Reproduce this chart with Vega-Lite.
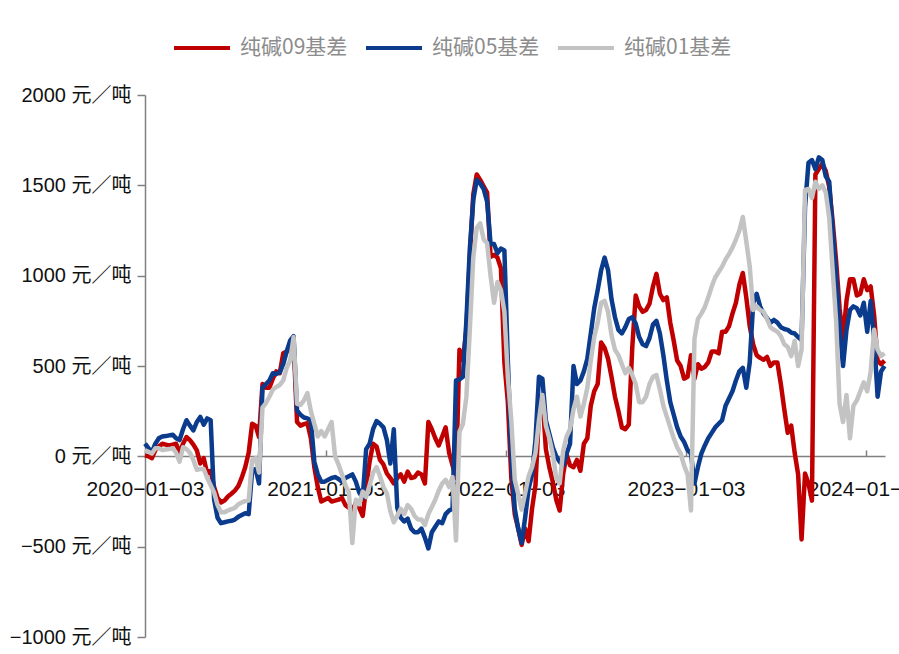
{
"$schema": "https://vega.github.io/schema/vega-lite/v6.json",
"width": 740, "height": 542,
"autosize": {"type": "none"},
"padding": {"left": 145, "top": 95, "right": 14, "bottom": 17},
"background": "white",
"config": {"view": {"stroke": null}, "font": "Liberation Sans, Noto Sans CJK SC"},
"data": {"values": [
{"d":"2020-01-03","纯碱09基差":5,"纯碱05基差":70,"纯碱01基差":33},
{"d":"2020-01-10","纯碱09基差":0,"纯碱05基差":45,"纯碱01基差":25},
{"d":"2020-01-17","纯碱09基差":-10,"纯碱05基差":24,"纯碱01基差":15},
{"d":"2020-01-24","纯碱09基差":35,"纯碱05基差":70,"纯碱01基差":45},
{"d":"2020-01-31","纯碱09基差":55,"纯碱05基差":100,"纯碱01基差":45},
{"d":"2020-02-07","纯碱09基差":70,"纯碱05基差":110,"纯碱01基差":35},
{"d":"2020-02-14","纯碱09基差":65,"纯碱05基差":112,"纯碱01基差":38},
{"d":"2020-02-21","纯碱09基差":60,"纯碱05基差":116,"纯碱01基差":40},
{"d":"2020-02-28","纯碱09基差":65,"纯碱05基差":120,"纯碱01基差":45},
{"d":"2020-03-06","纯碱09基差":70,"纯碱05基差":100,"纯碱01基差":20},
{"d":"2020-03-13","纯碱09基差":20,"纯碱05基差":90,"纯碱01基差":-30},
{"d":"2020-03-20","纯碱09基差":70,"纯碱05基差":150,"纯碱01基差":50},
{"d":"2020-03-27","纯碱09基差":107,"纯碱05基差":200,"纯碱01基差":40},
{"d":"2020-04-03","纯碱09基差":90,"纯碱05基差":170,"纯碱01基差":20},
{"d":"2020-04-10","纯碱09基差":65,"纯碱05基差":144,"纯碱01基差":-20},
{"d":"2020-04-17","纯碱09基差":33,"纯碱05基差":190,"纯碱01基差":-75},
{"d":"2020-04-24","纯碱09基差":-40,"纯碱05基差":218,"纯碱01基差":-70},
{"d":"2020-05-01","纯碱09基差":-10,"纯碱05基差":175,"纯碱01基差":-70},
{"d":"2020-05-08","纯碱09基差":-95,"纯碱05基差":210,"纯碱01基差":-120},
{"d":"2020-05-15","纯碱09基差":-80,"纯碱05基差":200,"纯碱01基差":-160},
{"d":"2020-05-22","纯碱09基差":-170,"纯碱05基差":-240,"纯碱01基差":-200},
{"d":"2020-05-29","纯碱09基差":-230,"纯碱05基差":-340,"纯碱01基差":-270},
{"d":"2020-06-05","纯碱09基差":-255,"纯碱05基差":-370,"纯碱01基差":-310},
{"d":"2020-06-12","纯碱09基差":-245,"纯碱05基差":-365,"纯碱01基差":-310},
{"d":"2020-06-19","纯碱09基差":-222,"纯碱05基差":-360,"纯碱01基差":-300},
{"d":"2020-06-26","纯碱09基差":-207,"纯碱05基差":-357,"纯碱01基差":-292},
{"d":"2020-07-03","纯碱09基差":-190,"纯碱05基差":-350,"纯碱01基差":-285},
{"d":"2020-07-10","纯碱09基差":-165,"纯碱05基差":-335,"纯碱01基差":-265},
{"d":"2020-07-17","纯碱09基差":-118,"纯碱05基差":-325,"纯碱01基差":-255},
{"d":"2020-07-24","纯碱09基差":-60,"纯碱05基差":-315,"纯碱01基差":-248},
{"d":"2020-07-31","纯碱09基差":20,"纯碱05基差":-320,"纯碱01基差":-245},
{"d":"2020-08-07","纯碱09基差":180,"纯碱05基差":-80,"纯碱01基差":-20},
{"d":"2020-08-14","纯碱09基差":170,"纯碱05基差":-70,"纯碱01基差":-10},
{"d":"2020-08-21","纯碱09基差":107,"纯碱05基差":-150,"纯碱01基差":-90},
{"d":"2020-08-28","纯碱09基差":400,"纯碱05基差":380,"纯碱01基差":270},
{"d":"2020-09-04","纯碱09基差":380,"纯碱05基差":400,"纯碱01基差":295},
{"d":"2020-09-11","纯碱09基差":380,"纯碱05基差":420,"纯碱01基差":330},
{"d":"2020-09-18","纯碱09基差":430,"纯碱05基差":460,"纯碱01基差":370},
{"d":"2020-09-25","纯碱09基差":470,"纯碱05基差":455,"纯碱01基差":384},
{"d":"2020-10-02","纯碱09基差":460,"纯碱05基差":465,"纯碱01基差":395},
{"d":"2020-10-09","纯碱09基差":570,"纯碱05基差":510,"纯碱01基差":420},
{"d":"2020-10-16","纯碱09基差":580,"纯碱05基差":580,"纯碱01基差":490},
{"d":"2020-10-23","纯碱09基差":600,"纯碱05基差":640,"纯碱01基差":530},
{"d":"2020-10-30","纯碱09基差":627,"纯碱05基差":665,"纯碱01基差":660},
{"d":"2020-11-06","纯碱09基差":190,"纯碱05基差":255,"纯碱01基差":290},
{"d":"2020-11-13","纯碱09基差":170,"纯碱05基差":230,"纯碱01基差":285},
{"d":"2020-11-20","纯碱09基差":178,"纯碱05基差":215,"纯碱01基差":310},
{"d":"2020-11-27","纯碱09基差":183,"纯碱05基差":210,"纯碱01基差":350},
{"d":"2020-12-04","纯碱09基差":100,"纯碱05基差":200,"纯碱01基差":250},
{"d":"2020-12-11","纯碱09基差":-60,"纯碱05基差":-30,"纯碱01基差":180},
{"d":"2020-12-18","纯碱09基差":-170,"纯碱05基差":-100,"纯碱01基差":110},
{"d":"2020-12-25","纯碱09基差":-250,"纯碱05基差":-140,"纯碱01基差":140},
{"d":"2021-01-01","纯碱09基差":-240,"纯碱05基差":-140,"纯碱01基差":110},
{"d":"2021-01-08","纯碱09基差":-230,"纯碱05基差":-130,"纯碱01基差":150},
{"d":"2021-01-15","纯碱09基差":-250,"纯碱05基差":-120,"纯碱01基差":190},
{"d":"2021-01-22","纯碱09基差":-245,"纯碱05基差":-115,"纯碱01基差":0},
{"d":"2021-01-29","纯碱09基差":-240,"纯碱05基差":-125,"纯碱01基差":-45},
{"d":"2021-02-05","纯碱09基差":-230,"纯碱05基差":-140,"纯碱01基差":-100},
{"d":"2021-02-12","纯碱09基差":-270,"纯碱05基差":-120,"纯碱01基差":-160},
{"d":"2021-02-19","纯碱09基差":-285,"纯碱05基差":-110,"纯碱01基差":-200},
{"d":"2021-02-26","纯碱09基差":-300,"纯碱05基差":-100,"纯碱01基差":-480},
{"d":"2021-03-05","纯碱09基差":-260,"纯碱05基差":-140,"纯碱01基差":-240},
{"d":"2021-03-12","纯碱09基差":-285,"纯碱05基差":-200,"纯碱01基差":-265},
{"d":"2021-03-19","纯碱09基差":-330,"纯碱05基差":-230,"纯碱01基差":-195},
{"d":"2021-03-26","纯碱09基差":-170,"纯碱05基差":40,"纯碱01基差":-225},
{"d":"2021-04-02","纯碱09基差":-30,"纯碱05基差":70,"纯碱01基差":-160},
{"d":"2021-04-09","纯碱09基差":70,"纯碱05基差":150,"纯碱01基差":-90},
{"d":"2021-04-16","纯碱09基差":55,"纯碱05基差":195,"纯碱01基差":-60},
{"d":"2021-04-23","纯碱09基差":-20,"纯碱05基差":180,"纯碱01基差":-110},
{"d":"2021-04-30","纯碱09基差":-45,"纯碱05基差":160,"纯碱01基差":-170},
{"d":"2021-05-07","纯碱09基差":-95,"纯碱05基差":90,"纯碱01基差":-205},
{"d":"2021-05-14","纯碱09基差":-120,"纯碱05基差":-40,"纯碱01基差":-305},
{"d":"2021-05-21","纯碱09基差":-150,"纯碱05基差":150,"纯碱01基差":-365},
{"d":"2021-05-28","纯碱09基差":-120,"纯碱05基差":-285,"纯碱01基差":-330},
{"d":"2021-06-04","纯碱09基差":-100,"纯碱05基差":-340,"纯碱01基差":-290},
{"d":"2021-06-11","纯碱09基差":-140,"纯碱05基差":-360,"纯碱01基差":-320},
{"d":"2021-06-18","纯碱09基差":-85,"纯碱05基差":-345,"纯碱01基差":-270},
{"d":"2021-06-25","纯碱09基差":-120,"纯碱05基差":-400,"纯碱01基差":-290},
{"d":"2021-07-02","纯碱09基差":-115,"纯碱05基差":-420,"纯碱01基差":-330},
{"d":"2021-07-09","纯碱09基差":-90,"纯碱05基差":-420,"纯碱01基差":-350},
{"d":"2021-07-16","纯碱09基差":-100,"纯碱05基差":-400,"纯碱01基差":-350},
{"d":"2021-07-23","纯碱09基差":-150,"纯碱05基差":-450,"纯碱01基差":-380},
{"d":"2021-07-30","纯碱09基差":190,"纯碱05基差":-510,"纯碱01基差":-320},
{"d":"2021-08-06","纯碱09基差":150,"纯碱05基差":-420,"纯碱01基差":-280},
{"d":"2021-08-13","纯碱09基差":100,"纯碱05基差":-390,"纯碱01基差":-240},
{"d":"2021-08-20","纯碱09基差":60,"纯碱05基差":-360,"纯碱01基差":-190},
{"d":"2021-08-27","纯碱09基差":110,"纯碱05基差":-370,"纯碱01基差":-150},
{"d":"2021-09-03","纯碱09基差":160,"纯碱05基差":-320,"纯碱01基差":-130},
{"d":"2021-09-10","纯碱09基差":20,"纯碱05基差":-300,"纯碱01基差":-170},
{"d":"2021-09-17","纯碱09基差":-50,"纯碱05基差":-290,"纯碱01基差":-115},
{"d":"2021-09-24","纯碱09基差":-120,"纯碱05基差":420,"纯碱01基差":-466},
{"d":"2021-10-01","纯碱09基差":590,"纯碱05基差":425,"纯碱01基差":135},
{"d":"2021-10-08","纯碱09基差":532,"纯碱05基差":440,"纯碱01基差":180},
{"d":"2021-10-15","纯碱09基差":700,"纯碱05基差":750,"纯碱01基差":330},
{"d":"2021-10-22","纯碱09基差":1100,"纯碱05基差":1150,"纯碱01基差":700},
{"d":"2021-10-29","纯碱09基差":1450,"纯碱05基差":1420,"纯碱01基差":1100},
{"d":"2021-11-05","纯碱09基差":1560,"纯碱05基差":1530,"纯碱01基差":1265},
{"d":"2021-11-12","纯碱09基差":1530,"纯碱05基差":1510,"纯碱01基差":1290},
{"d":"2021-11-19","纯碱09基差":1495,"纯碱05基差":1480,"纯碱01基差":1200},
{"d":"2021-11-26","纯碱09基差":1460,"纯碱05基差":1410,"纯碱01基差":1180},
{"d":"2021-12-03","纯碱09基差":1105,"纯碱05基差":1175,"纯碱01基差":1000},
{"d":"2021-12-10","纯碱09基差":1115,"纯碱05基差":1175,"纯碱01基差":850},
{"d":"2021-12-17","纯碱09基差":1100,"纯碱05基差":1125,"纯碱01基差":965},
{"d":"2021-12-24","纯碱09基差":1040,"纯碱05基差":1150,"纯碱01基差":920},
{"d":"2021-12-31","纯碱09基差":520,"纯碱05基差":1140,"纯碱01基差":800},
{"d":"2022-01-07","纯碱09基差":300,"纯碱05基差":530,"纯碱01基差":440},
{"d":"2022-01-14","纯碱09基差":-120,"纯碱05基差":0,"纯碱01基差":200},
{"d":"2022-01-21","纯碱09基差":-320,"纯碱05基差":-290,"纯碱01基差":-130},
{"d":"2022-01-28","纯碱09基差":-400,"纯碱05基差":-400,"纯碱01基差":-210},
{"d":"2022-02-04","纯碱09基差":-490,"纯碱05基差":-480,"纯碱01基差":-295},
{"d":"2022-02-11","纯碱09基差":-400,"纯碱05基差":-340,"纯碱01基差":-205},
{"d":"2022-02-18","纯碱09基差":-470,"纯碱05基差":-180,"纯碱01基差":-110},
{"d":"2022-02-25","纯碱09基差":-290,"纯碱05基差":-100,"纯碱01基差":-60},
{"d":"2022-03-04","纯碱09基差":-160,"纯碱05基差":90,"纯碱01基差":20},
{"d":"2022-03-11","纯碱09基差":240,"纯碱05基差":440,"纯碱01基差":200},
{"d":"2022-03-18","纯碱09基差":330,"纯碱05基差":430,"纯碱01基差":340},
{"d":"2022-03-25","纯碱09基差":40,"纯碱05基差":200,"纯碱01基差":170},
{"d":"2022-04-01","纯碱09基差":-60,"纯碱05基差":125,"纯碱01基差":100},
{"d":"2022-04-08","纯碱09基差":-140,"纯碱05基差":50,"纯碱01基差":15},
{"d":"2022-04-15","纯碱09基差":-240,"纯碱05基差":0,"纯碱01基差":-120},
{"d":"2022-04-22","纯碱09基差":-300,"纯碱05基差":-30,"纯碱01基差":-150},
{"d":"2022-04-29","纯碱09基差":-100,"纯碱05基差":-50,"纯碱01基差":30},
{"d":"2022-05-06","纯碱09基差":10,"纯碱05基差":15,"纯碱01基差":110},
{"d":"2022-05-13","纯碱09基差":-50,"纯碱05基差":70,"纯碱01基差":150},
{"d":"2022-05-20","纯碱09基差":-60,"纯碱05基差":500,"纯碱01基差":260},
{"d":"2022-05-27","纯碱09基差":-20,"纯碱05基差":400,"纯碱01基差":330},
{"d":"2022-06-03","纯碱09基差":-80,"纯碱05基差":420,"纯碱01基差":220},
{"d":"2022-06-10","纯碱09基差":70,"纯碱05基差":470,"纯碱01基差":290},
{"d":"2022-06-17","纯碱09基差":100,"纯碱05基差":540,"纯碱01基差":380},
{"d":"2022-06-24","纯碱09基差":280,"纯碱05基差":680,"纯碱01基差":530},
{"d":"2022-07-01","纯碱09基差":360,"纯碱05基差":820,"纯碱01基差":660},
{"d":"2022-07-08","纯碱09基差":400,"纯碱05基差":920,"纯碱01基差":740},
{"d":"2022-07-15","纯碱09基差":630,"纯碱05基差":1030,"纯碱01基差":850},
{"d":"2022-07-22","纯碱09基差":600,"纯碱05基差":1100,"纯碱01基差":860},
{"d":"2022-07-29","纯碱09基差":540,"纯碱05基差":1030,"纯碱01基差":800},
{"d":"2022-08-05","纯碱09基差":440,"纯碱05基差":870,"纯碱01基差":670},
{"d":"2022-08-12","纯碱09基差":330,"纯碱05基差":770,"纯碱01基差":590},
{"d":"2022-08-19","纯碱09基差":250,"纯碱05基差":700,"纯碱01基差":560},
{"d":"2022-08-26","纯碱09基差":160,"纯碱05基差":680,"纯碱01基差":510},
{"d":"2022-09-02","纯碱09基差":150,"纯碱05基差":715,"纯碱01基差":460},
{"d":"2022-09-09","纯碱09基差":175,"纯碱05基差":760,"纯碱01基差":490},
{"d":"2022-09-16","纯碱09基差":600,"纯碱05基差":770,"纯碱01基差":450},
{"d":"2022-09-23","纯碱09基差":890,"纯碱05基差":735,"纯碱01基差":400},
{"d":"2022-09-30","纯碱09基差":830,"纯碱05基差":660,"纯碱01基差":300},
{"d":"2022-10-07","纯碱09基差":800,"纯碱05基差":620,"纯碱01基差":300},
{"d":"2022-10-14","纯碱09基差":810,"纯碱05基差":610,"纯碱01基差":330},
{"d":"2022-10-21","纯碱09基差":845,"纯碱05基差":655,"纯碱01基差":400},
{"d":"2022-10-28","纯碱09基差":940,"纯碱05基差":730,"纯碱01基差":440},
{"d":"2022-11-04","纯碱09基差":1010,"纯碱05基差":750,"纯碱01基差":450},
{"d":"2022-11-11","纯碱09基差":900,"纯碱05基差":680,"纯碱01基差":370},
{"d":"2022-11-18","纯碱09基差":865,"纯碱05基差":560,"纯碱01基差":280},
{"d":"2022-11-25","纯碱09基差":880,"纯碱05基差":420,"纯碱01基差":220},
{"d":"2022-12-02","纯碱09基差":740,"纯碱05基差":300,"纯碱01基差":160},
{"d":"2022-12-09","纯碱09基差":640,"纯碱05基差":230,"纯碱01基差":100},
{"d":"2022-12-16","纯碱09基差":530,"纯碱05基差":160,"纯碱01基差":50},
{"d":"2022-12-23","纯碱09基差":500,"纯碱05基差":110,"纯碱01基差":17},
{"d":"2022-12-30","纯碱09基差":430,"纯碱05基差":80,"纯碱01基差":-50},
{"d":"2023-01-06","纯碱09基差":440,"纯碱05基差":35,"纯碱01基差":-100},
{"d":"2023-01-13","纯碱09基差":560,"纯碱05基差":15,"纯碱01基差":-300},
{"d":"2023-01-20","纯碱09基差":430,"纯碱05基差":-150,"纯碱01基差":650},
{"d":"2023-01-27","纯碱09基差":510,"纯碱05基差":-60,"纯碱01基差":760},
{"d":"2023-02-03","纯碱09基差":485,"纯碱05基差":15,"纯碱01基差":790},
{"d":"2023-02-10","纯碱09基差":495,"纯碱05基差":60,"纯碱01基差":826},
{"d":"2023-02-17","纯碱09基差":520,"纯碱05基差":100,"纯碱01基差":880},
{"d":"2023-02-24","纯碱09基差":580,"纯碱05基差":130,"纯碱01基差":940},
{"d":"2023-03-03","纯碱09基差":580,"纯碱05基差":160,"纯碱01基差":990},
{"d":"2023-03-10","纯碱09基差":570,"纯碱05基差":180,"纯碱01基差":1020},
{"d":"2023-03-17","纯碱09基差":690,"纯碱05基差":200,"纯碱01基差":1050},
{"d":"2023-03-24","纯碱09基差":690,"纯碱05基差":280,"纯碱01基差":1090},
{"d":"2023-03-31","纯碱09基差":720,"纯碱05基差":320,"纯碱01基差":1120},
{"d":"2023-04-07","纯碱09基差":790,"纯碱05基差":360,"纯碱01基差":1155},
{"d":"2023-04-14","纯碱09基差":850,"纯碱05基差":420,"纯碱01基差":1200},
{"d":"2023-04-21","纯碱09基差":950,"纯碱05基差":470,"纯碱01基差":1250},
{"d":"2023-04-28","纯碱09基差":1015,"纯碱05基差":490,"纯碱01基差":1325},
{"d":"2023-05-05","纯碱09基差":880,"纯碱05基差":380,"纯碱01基差":1190},
{"d":"2023-05-12","纯碱09基差":720,"纯碱05基差":520,"纯碱01基差":1050},
{"d":"2023-05-19","纯碱09基差":620,"纯碱05基差":850,"纯碱01基差":810},
{"d":"2023-05-26","纯碱09基差":560,"纯碱05基差":900,"纯碱01基差":830},
{"d":"2023-06-02","纯碱09基差":545,"纯碱05基差":830,"纯碱01基差":810},
{"d":"2023-06-09","纯碱09基差":535,"纯碱05基差":790,"纯碱01基差":800},
{"d":"2023-06-16","纯碱09基差":550,"纯碱05基差":765,"纯碱01基差":760},
{"d":"2023-06-23","纯碱09基差":500,"纯碱05基差":740,"纯碱01基差":715},
{"d":"2023-06-30","纯碱09基差":520,"纯碱05基差":755,"纯碱01基差":700},
{"d":"2023-07-07","纯碱09基差":520,"纯碱05基差":740,"纯碱01基差":690},
{"d":"2023-07-14","纯碱09基差":400,"纯碱05基差":715,"纯碱01基差":665},
{"d":"2023-07-21","纯碱09基差":260,"纯碱05基差":705,"纯碱01基差":620},
{"d":"2023-07-28","纯碱09基差":130,"纯碱05基差":700,"纯碱01基差":605},
{"d":"2023-08-04","纯碱09基差":170,"纯碱05基差":685,"纯碱01基差":555},
{"d":"2023-08-11","纯碱09基差":20,"纯碱05基差":680,"纯碱01基差":640},
{"d":"2023-08-18","纯碱09基差":-100,"纯碱05基差":660,"纯碱01基差":500},
{"d":"2023-08-25","纯碱09基差":-460,"纯碱05基差":643,"纯碱01基差":590},
{"d":"2023-09-01","纯碱09基差":-95,"纯碱05基差":1380,"纯碱01基差":1475},
{"d":"2023-09-08","纯碱09基差":-150,"纯碱05基差":1625,"纯碱01基差":1480},
{"d":"2023-09-15","纯碱09基差":-245,"纯碱05基差":1640,"纯碱01基差":1430},
{"d":"2023-09-22","纯碱09基差":1560,"纯碱05基差":1590,"纯碱01基差":1520},
{"d":"2023-09-29","纯碱09基差":1590,"纯碱05基差":1655,"纯碱01基差":1480},
{"d":"2023-10-06","纯碱09基差":1620,"纯碱05基差":1640,"纯碱01基差":1500},
{"d":"2023-10-13","纯碱09基差":1580,"纯碱05基差":1550,"纯碱01基差":1460},
{"d":"2023-10-20","纯碱09基差":1490,"纯碱05基差":1520,"纯碱01基差":1320},
{"d":"2023-10-27","纯碱09基差":1300,"纯碱05基差":1250,"纯碱01基差":1030},
{"d":"2023-11-03","纯碱09基差":1080,"纯碱05基差":1000,"纯碱01基差":750},
{"d":"2023-11-10","纯碱09基差":820,"纯碱05基差":720,"纯碱01基差":290},
{"d":"2023-11-17","纯碱09基差":650,"纯碱05基差":500,"纯碱01基差":190},
{"d":"2023-11-24","纯碱09基差":860,"纯碱05基差":700,"纯碱01基差":340},
{"d":"2023-12-01","纯碱09基差":980,"纯碱05基差":810,"纯碱01基差":100},
{"d":"2023-12-08","纯碱09基差":980,"纯碱05基差":830,"纯碱01基差":280},
{"d":"2023-12-15","纯碱09基差":890,"纯碱05基差":820,"纯碱01基差":310},
{"d":"2023-12-22","纯碱09基差":900,"纯碱05基差":780,"纯碱01基差":360},
{"d":"2023-12-29","纯碱09基差":980,"纯碱05基差":850,"纯碱01基差":410},
{"d":"2024-01-05","纯碱09基差":920,"纯碱05基差":690,"纯碱01基差":360},
{"d":"2024-01-12","纯碱09基差":940,"纯碱05基差":860,"纯碱01基差":470},
{"d":"2024-01-19","纯碱09基差":780,"纯碱05基差":650,"纯碱01基差":700},
{"d":"2024-01-26","纯碱09基差":530,"纯碱05基差":330,"纯碱01基差":590},
{"d":"2024-02-02","纯碱09基差":510,"纯碱05基差":470,"纯碱01基差":555},
{"d":"2024-02-09","纯碱09基差":530,"纯碱05基差":500,"纯碱01基差":570}
]},
"transform": [{"fold": ["纯碱09基差", "纯碱05基差", "纯碱01基差"], "as": ["series", "value"]}],
"encoding": {
  "x": {"field": "d", "type": "temporal",
    "scale": {"type": "utc", "domain": [{"year": 2020, "month": 1, "date": 3, "utc": true}, {"year": 2024, "month": 2, "date": 10, "utc": true}]},
    "axis": {"title": null, "format": "%Y−%m−%d", "offset": -181, "grid": false,
      "values": [{"year": 2020, "month": 1, "date": 3, "utc": true}, {"year": 2021, "month": 1, "date": 3, "utc": true}, {"year": 2022, "month": 1, "date": 3, "utc": true}, {"year": 2023, "month": 1, "date": 3, "utc": true}, {"year": 2024, "month": 1, "date": 3, "utc": true}],
      "domainColor": "#808080", "domainWidth": 1.5, "tickColor": "#808080", "tickWidth": 1.5, "tickSize": -6,
      "labelFontSize": 21, "labelColor": "#111111", "labelFont": "Liberation Sans", "labelPadding": 28,
      "labelFlush": false, "labelOverlap": false, "labelBound": false}},
  "y": {"field": "value", "type": "quantitative",
    "scale": {"domain": [-1000, 2000], "nice": false, "zero": false},
    "axis": {"title": null, "values": [-1000, -500, 0, 500, 1000, 1500, 2000], "format": "d",
      "labelExpr": "datum.label + ' 元／吨'", "grid": false,
      "domainColor": "#808080", "domainWidth": 1.5, "tickColor": "#808080", "tickWidth": 1.5, "tickSize": 8,
      "labelFontSize": 20, "labelColor": "#111111", "labelPadding": 6}},
  "color": {"field": "series", "type": "nominal",
    "scale": {"domain": ["纯碱09基差", "纯碱05基差", "纯碱01基差"], "range": ["#C00000", "#0B3B8C", "#C3C3C3"]},
    "legend": {"title": null, "orient": "none", "legendX": 27, "legendY": -77, "direction": "horizontal",
      "symbolType": "stroke", "symbolSize": 3136, "symbolStrokeWidth": 4,
      "labelFontSize": 21, "labelColor": "#8c8c8c", "labelFont": "Noto Sans CJK SC", "labelOffset": 8, "columnPadding": 10}}
},
"layer": [
  {"transform": [{"filter": "datum.series === '纯碱09基差'"}], "mark": {"type": "line", "strokeWidth": 4.5, "strokeJoin": "round"}},
  {"transform": [{"filter": "datum.series === '纯碱05基差'"}], "mark": {"type": "line", "strokeWidth": 4.5, "strokeJoin": "round"}},
  {"transform": [{"filter": "datum.series === '纯碱01基差'"}], "mark": {"type": "line", "strokeWidth": 4.5, "strokeJoin": "round"}}
]
}
